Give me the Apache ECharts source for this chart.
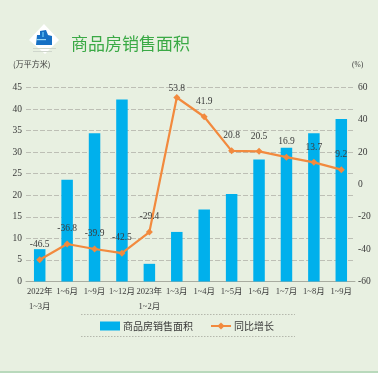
<!DOCTYPE html>
<html><head><meta charset="utf-8">
<style>html,body{margin:0;padding:0;background:#e8f0e1}#c{width:378px;height:373px}</style>
<script src="https://cdn.jsdelivr.net/npm/echarts@6/dist/echarts.min.js"></script>
</head><body><div id="c"></div>
<script>
const categories=['2022年\n1~3月','1~6月','1~9月','1~12月','2023年\n1~2月','1~3月','1~4月','1~5月','1~6月','1~7月','1~8月','1~9月'];
const areaValues=[7.5,23.6,34.4,42.2,4.1,11.5,16.7,20.3,28.3,31,34.4,37.7];
const growthValues=[-46.5,-36.8,-39.9,-42.5,-29.4,53.8,41.9,20.8,20.5,16.9,13.7,9.2];
const leftTicks={min:0,max:45,interval:5};
const rightTicks={min:-60,max:60,interval:20};
const titleText='商品房销售面积';
const leftUnit='(万平方米)';
const rightUnit='(%)';
const seriesNames=['商品房销售面积','同比增长'];
const serif='"Liberation Serif","Noto Sans CJK SC",serif';
const cjk='"Noto Sans CJK SC",sans-serif';
const txt='#3a3a3a';
const chart=echarts.init(document.getElementById('c'),null,{renderer:'canvas'});
chart.setOption({
  animation:false,
  backgroundColor:'#e8f0e1',
  grid:{left:26,right:23,top:87.5,bottom:91.5},
  legend:{left:100,top:321,padding:0,itemGap:17,itemWidth:20,itemHeight:9,
    textStyle:{fontFamily:cjk,fontSize:10,color:txt,padding:[0,0,0,-2]},
    data:[{name:seriesNames[0],icon:'rect'},{name:seriesNames[1]}]},
  xAxis:{type:'category',data:categories,
    axisLine:{lineStyle:{color:'#a8aca0',width:1}},axisTick:{show:false},
    axisLabel:{interval:0,margin:3,fontFamily:serif,fontSize:8.5,color:txt,lineHeight:15,hideOverlap:false}},
  yAxis:[
    {type:'value',...leftTicks,axisLine:{show:false},axisTick:{show:false},
     splitLine:{lineStyle:{color:'#bdbfb5',type:[5,2],width:1}},
     axisLabel:{margin:4,fontFamily:serif,fontSize:9.5,color:txt}},
    {type:'value',...rightTicks,axisLine:{show:false},axisTick:{show:false},splitLine:{show:false},
     axisLabel:{margin:3,fontFamily:serif,fontSize:9.5,color:txt}}
  ],
  series:[
    {name:seriesNames[0],type:'bar',yAxisIndex:0,data:areaValues,barWidth:11.5,
     itemStyle:{color:'#00b0ec'}},
    {name:seriesNames[1],type:'line',yAxisIndex:1,symbol:'diamond',symbolSize:7,
     data:growthValues.map((v,i)=>i===5?{value:v,label:{distance:1}}:v),
     lineStyle:{color:'#f28a3e',width:2.2},itemStyle:{color:'#f28a3e'},
     label:{show:true,position:'top',distance:7,fontFamily:serif,fontSize:9.5,color:txt,
       formatter:p=>p.value.toFixed(1)}}
  ],
  graphic:[
    {type:'text',left:71,top:35,style:{text:titleText,fontFamily:cjk,fontSize:17,fill:'#3aa945'}},
    {type:'text',left:13,top:60,style:{text:leftUnit,fontFamily:cjk,fontSize:8,fill:txt}},
    {type:'text',left:352,top:61,style:{text:rightUnit,fontFamily:serif,fontSize:7.5,fill:txt}},
    {type:'polygon',shape:{points:[[44,24],[59,40],[45,54],[29,40]]},style:{fill:'#ffffff'}},
    {type:'polygon',shape:{points:[[36,45],[37,35],[40,35],[40,31],[46,30],[48,35],[52,36],[52,45]]},style:{fill:'#1670c4'}},
    {type:'rect',shape:{x:36,y:39,width:10,height:1.2},style:{fill:'#9ad6f2'}},
    {type:'rect',shape:{x:42,y:32,width:2,height:5},style:{fill:'#4aa8e4'}},
    {type:'line',shape:{x1:33,y1:48.5,x2:56,y2:48.5},style:{stroke:'#cfd6cc',lineWidth:1}},
    {type:'line',shape:{x1:33,y1:51.5,x2:52,y2:51.5},style:{stroke:'#cfd6cc',lineWidth:1}},
    {type:'line',shape:{x1:81,y1:314.5,x2:295,y2:314.5},style:{stroke:'#b5b8ac',lineWidth:1,lineDash:[1.5,1.5]}},
    {type:'line',shape:{x1:81,y1:336.5,x2:295,y2:336.5},style:{stroke:'#b5b8ac',lineWidth:1,lineDash:[1.5,1.5]}},
    {type:'rect',shape:{x:0,y:371,width:378,height:2},style:{fill:'#b9d9bc'}}
  ]
});
</script></body></html>
